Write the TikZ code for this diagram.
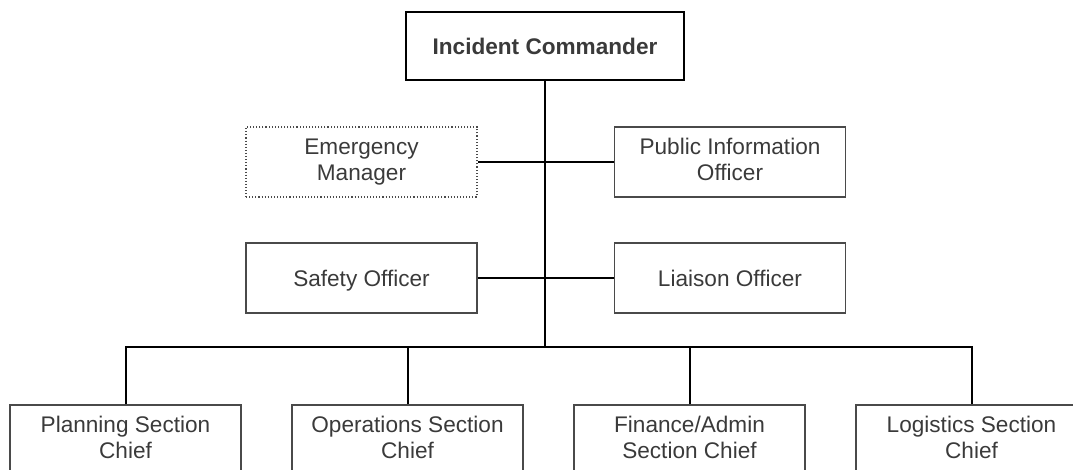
\documentclass[tikz,border=0pt]{standalone}
\usepackage{fontspec}
\setmainfont{Liberation Sans}
\definecolor{txt}{HTML}{3A3A3A}
\definecolor{edge}{HTML}{4A4A4A}
\newcommand{\boxstrut}{\rule[-5pt]{0pt}{27.3pt}}
\newcommand{\twostrut}{\rule[-5pt]{0pt}{33.3pt}}
\begin{document}
\begin{tikzpicture}[x=1pt,y=-1pt,
  box/.style={draw=edge, line width=1.1pt, rectangle, minimum width=231pt, minimum height=70pt,
    align=center, text=txt, font=\fontsize{22.6}{26}\selectfont, inner sep=0pt,
    execute at begin node={\boxstrut}},
  twoline/.style={box, execute at begin node={\twostrut}},
  topbox/.style={box, draw=black, line width=2pt, minimum width=278pt, minimum height=68pt, font=\fontsize{22.6}{26}\selectfont\bfseries},
  dotbox/.style={twoline, dotted, line width=1.1pt},
  conn/.style={draw=black, line width=2pt}]
\useasboundingbox (0,0) rectangle (1073,470);
\clip (0,0) rectangle (1073,470);
\node[topbox] (ic) at (545,46) {Incident Commander};
\node[dotbox] (em) at (361.5,162) {Emergency\\Manager};
\node[twoline] (pio) at (730,162) {Public Information\\Officer};
\node[box] (so) at (361.5,278) {Safety Officer};
\node[box] (lo) at (730,278) {Liaison Officer};
\node[twoline] (plan) at (125.5,440) {Planning Section\\Chief};
\node[twoline] (ops) at (407.5,440) {Operations Section\\Chief};
\node[twoline] (fin) at (689.5,440) {Finance/Admin\\Section Chief};
\node[twoline] (logi) at (971.5,440) {Logistics Section\\Chief};
\coordinate (bar) at (545,347);
\draw[conn] (ic.south) -- (ic.south |- bar);
\draw[conn] (em.east) -- (pio.west);
\draw[conn] (so.east) -- (lo.west);
\draw[conn] (plan.north) |- (bar) -| (logi.north);
\draw[conn] (ops.north) -- (ops.north |- bar);
\draw[conn] (fin.north) -- (fin.north |- bar);
\end{tikzpicture}
\end{document}
